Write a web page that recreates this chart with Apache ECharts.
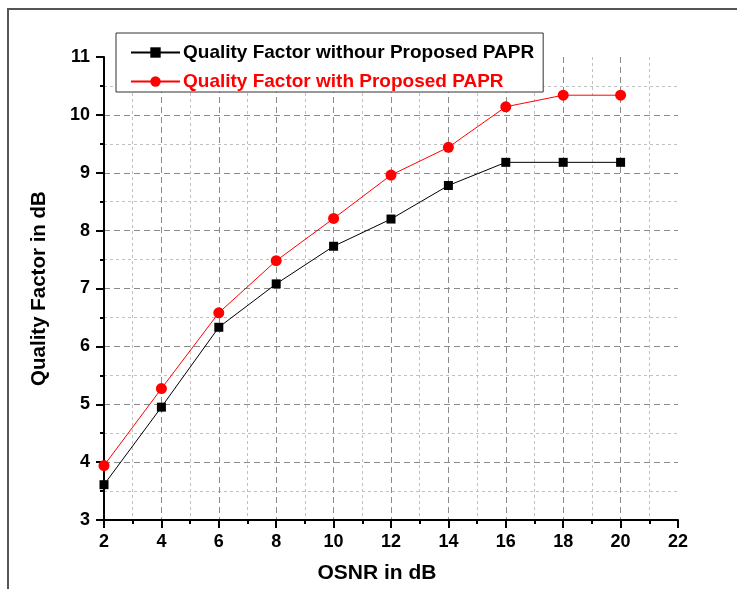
<!DOCTYPE html>
<html>
<head>
<meta charset="utf-8">
<script src="https://cdn.jsdelivr.net/npm/echarts@6/dist/echarts.min.js"></script>
<style>html,body{margin:0;padding:0;background:#fff;}#c{width:737px;height:589px;}</style>
</head>
<body>
<div id="c"></div>
<script>
var osnr = [2, 4, 6, 8, 10, 12, 14, 16, 18, 20];
var qWithout = [3.61, 4.95, 6.33, 7.08, 7.73, 8.20, 8.78, 9.18, 9.18, 9.18];
var qWith = [3.94, 5.27, 6.58, 7.48, 8.21, 8.96, 9.44, 10.14, 10.34, 10.34];
var seriesNames = ['Quality Factor withour Proposed PAPR', 'Quality Factor with Proposed PAPR'];
var xName = 'OSNR in dB';
var yName = 'Quality Factor in dB';

function pairs(xs, ys) { return xs.map(function (x, i) { return [x, ys[i]]; }); }

var chart = echarts.init(document.getElementById('c'), null, {renderer: 'canvas'});
var font = 'Liberation Sans, Arial, sans-serif';
var majorGrid = {show: true, showMinLine: false, showMaxLine: false, lineStyle: {color: '#8a8a8a', width: 1, type: [6, 4]}};
var minorGrid = {show: true, lineStyle: {color: '#c0c0c0', width: 1, type: [3, 3]}};
chart.setOption({
  animation: false,
  backgroundColor: '#fff',
  graphic: [{
    type: 'rect', z: -10, silent: true,
    shape: {x: 8, y: 9, width: 800, height: 700},
    style: {fill: null, stroke: '#555', lineWidth: 2}
  }],
  grid: {left: 104, right: 59, top: 57, bottom: 66, containLabel: false},
  legend: {
    orient: 'vertical', left: 116, top: 33,
    padding: [10, 9, 1, 14],
    itemGap: 10, itemWidth: 49, itemHeight: 13,
    borderColor: '#333', borderWidth: 1, backgroundColor: '#fff',
    data: [
      {name: seriesNames[0], textStyle: {color: '#000'}},
      {name: seriesNames[1], textStyle: {color: '#ff0000'}}
    ],
    textStyle: {fontFamily: font, fontWeight: 'bold', fontSize: 19, padding: [0, 0, 0, -2]}
  },
  xAxis: {
    type: 'value', min: 2, max: 22, interval: 2,
    name: xName, nameLocation: 'middle', nameGap: 43,
    nameTextStyle: {fontFamily: font, fontWeight: 'bold', fontSize: 21, color: '#000', padding: [0, 28, 0, 0]},
    axisLine: {show: true, onZero: false, lineStyle: {color: '#000', width: 2}},
    axisTick: {show: true, inside: false, length: 8, lineStyle: {color: '#000', width: 2}},
    minorTick: {show: true, splitNumber: 2, length: 4, lineStyle: {color: '#000', width: 2}},
    axisLabel: {fontFamily: font, fontWeight: 'bold', fontSize: 18, color: '#000', margin: 13},
    splitLine: majorGrid,
    minorSplitLine: minorGrid
  },
  yAxis: {
    type: 'value', min: 3, max: 11, interval: 1,
    name: yName, nameLocation: 'middle', nameGap: 54, nameRotate: 90,
    nameTextStyle: {fontFamily: font, fontWeight: 'bold', fontSize: 20.5, color: '#000'},
    axisLine: {show: true, onZero: false, lineStyle: {color: '#000', width: 2}},
    axisTick: {show: true, inside: false, length: 8, lineStyle: {color: '#000', width: 2}},
    minorTick: {show: true, splitNumber: 2, length: 4, lineStyle: {color: '#000', width: 2}},
    axisLabel: {fontFamily: font, fontWeight: 'bold', fontSize: 18, color: '#000', margin: 14},
    splitLine: majorGrid,
    minorSplitLine: minorGrid
  },
  series: [
    {
      name: seriesNames[0], type: 'line', data: pairs(osnr, qWithout),
      symbol: 'rect', symbolSize: 9, clip: false,
      lineStyle: {color: '#000', width: 1}, itemStyle: {color: '#000'}, z: 3
    },
    {
      name: seriesNames[1], type: 'line', data: pairs(osnr, qWith),
      symbol: 'circle', symbolSize: 11, clip: false,
      lineStyle: {color: '#ff0000', width: 1}, itemStyle: {color: '#ff0000'}, z: 4
    }
  ]
});
</script>
</body>
</html>
